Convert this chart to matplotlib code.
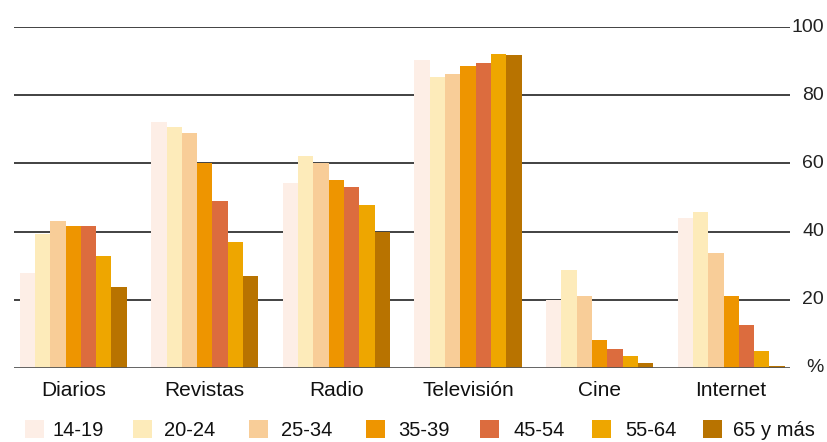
import matplotlib.pyplot as plt
from matplotlib.patches import Rectangle
import numpy as np

# Consumo de medios por grupo de edad (%)
categories = ["Diarios", "Revistas", "Radio", "Televisión", "Cine", "Internet"]
age_groups = ["14-19", "20-24", "25-34", "35-39", "45-54", "55-64", "65 y más"]
values = {
    "14-19":    [27.9, 72.1, 54.3, 90.3, 19.9, 44.0],
    "20-24":    [39.3, 70.7, 62.2, 85.3, 28.7, 45.7],
    "25-34":    [43.1, 68.9, 60.1, 86.2, 21.1, 33.7],
    "35-39":    [41.6, 60.1, 55.1, 88.6, 8.2, 21.1],
    "45-54":    [41.6, 49.0, 53.1, 89.4, 5.6, 12.6],
    "55-64":    [32.8, 37.0, 47.8, 92.1, 3.5, 5.0],
    "65 y más": [23.8, 27.0, 39.9, 91.8, 1.4, 0.6],
}
colors = ["#FDEEE6", "#FDEBBA", "#F8CD98", "#EE9500", "#DC6C3E", "#EEA600", "#B87300"]
yticks = [0, 20, 40, 60, 80, 100]
ytick_labels = ["%", "20", "40", "60", "80", "100"]

W, H = 827, 442
fig = plt.figure(figsize=(W / 100, H / 100), dpi=100)
ax = fig.add_axes([14 / W, (H - 368) / H, 776 / W, 341 / H])

x = np.arange(len(categories))
bw = 0.1163
for i, g in enumerate(age_groups):
    ax.bar(x + (i - 3) * bw, values[g], width=bw, color=colors[i],
           linewidth=0, zorder=3)

for t in yticks[1:]:
    ax.axhline(t, color="#333333", lw=1.3, zorder=1)
ax.axhline(0, color="#555555", lw=2.0, zorder=4)

ax.set_xlim(-0.45, 5.447)
ax.set_ylim(0, 100)
ax.axis("off")

# y labels on right
for t, lab in zip(yticks, ytick_labels):
    fig.text(824 / W, (H - (368 - t * 3.41)) / H, lab, ha="right", va="center",
             fontsize=14, color="#222222", family="Liberation Sans")

# category labels
for xi, c in zip(x, categories):
    px = ax.transData.transform((xi, 0))[0]
    fig.text(px / W, (H - 390) / H, c, ha="center", va="center",
             fontsize=15, color="#111111", family="Liberation Sans")

# legend
patch_x = [25, 133, 249, 366, 480, 592, 703]
text_x = [53, 164, 281, 398, 513, 625, 733]
for px, tx, g, col in zip(patch_x, text_x, age_groups, colors):
    fig.patches.append(Rectangle((px / W, (H - 438) / H), 19 / W, 18 / H,
                                 transform=fig.transFigure, color=col, lw=0))
    fig.text(tx / W, (H - 431) / H, g, ha="left", va="center",
             fontsize=14.5, color="#111111", family="Liberation Sans")

fig.savefig("out.png", dpi=100)
